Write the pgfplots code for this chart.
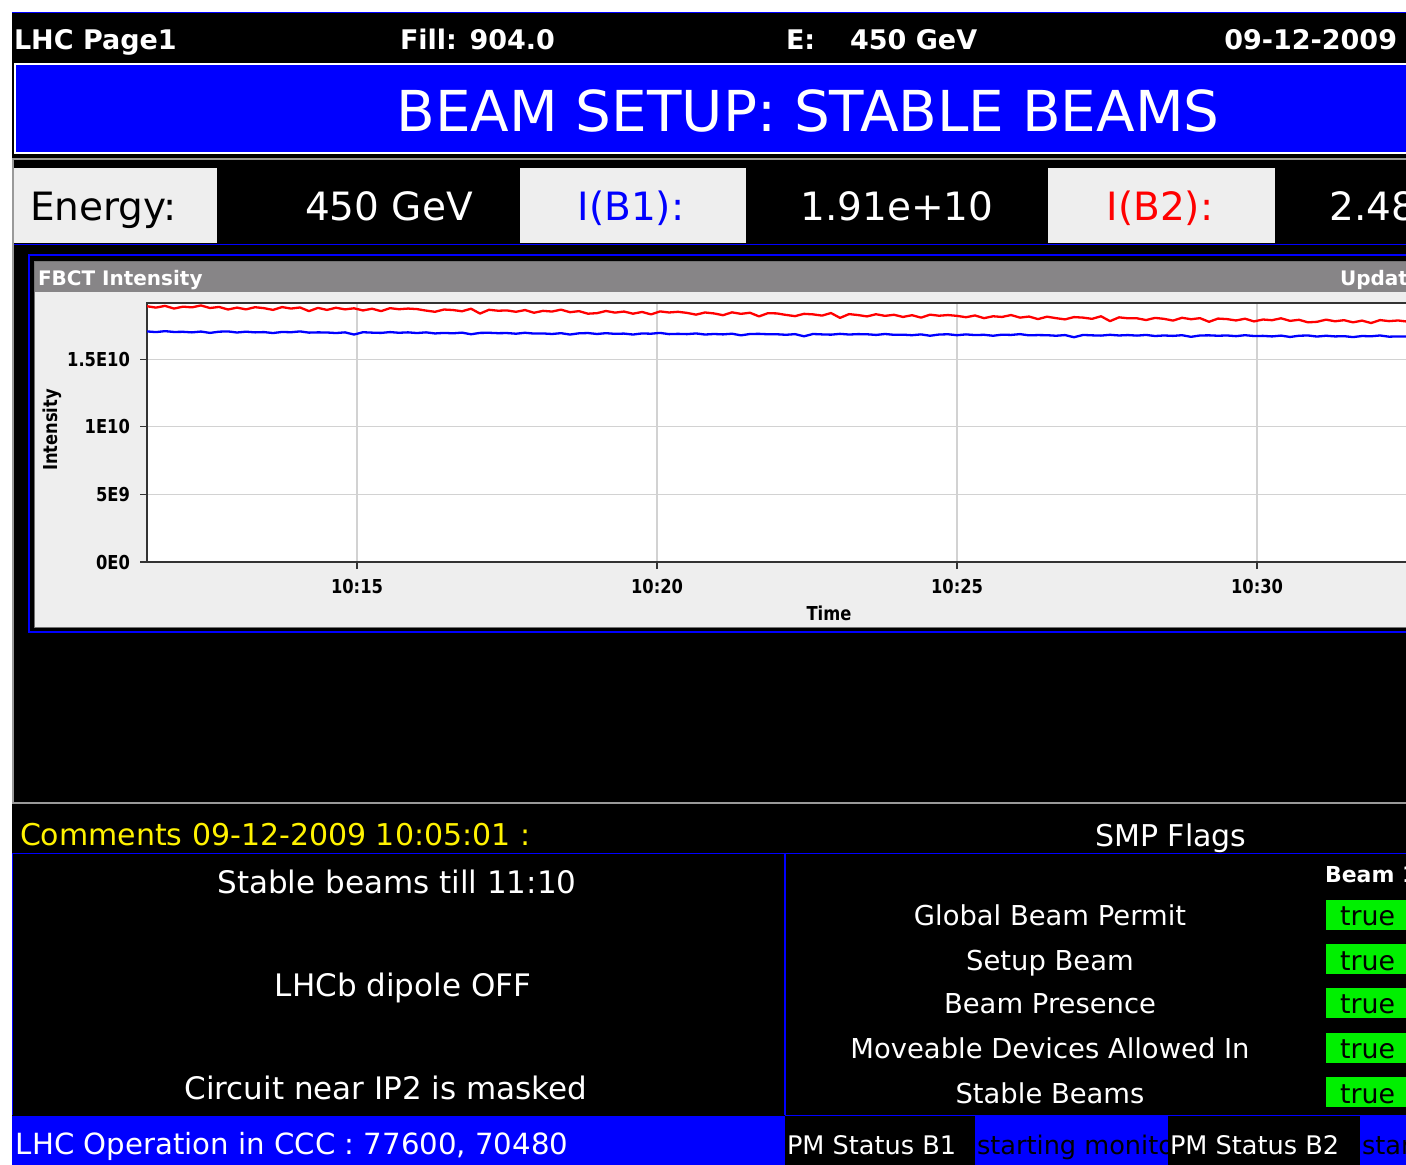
\documentclass[border=0pt]{standalone}
\usepackage{fontspec}
\setmainfont{DejaVu Sans}
\newfontfamily\tickfont[FakeStretch=0.85]{DejaVu Sans Bold}
\usepackage{pgfplots}
\usepackage{pgfplotstable}
\pgfplotsset{compat=1.18}
\definecolor{scrblue}{RGB}{0,0,255}
\definecolor{scrred}{RGB}{255,0,0}
\definecolor{lgray}{RGB}{238,238,238}
\definecolor{tgray}{RGB}{135,133,135}
\definecolor{fgreen}{RGB}{0,240,0}
\definecolor{gridgray}{RGB}{210,210,210}

% FBCT intensity, units of 1E10 charges; t = minutes after 10:00
\pgfplotstableread{
t b1 b2
11.50 1.705 1.891
11.65 1.700 1.881
11.80 1.707 1.894
11.95 1.701 1.874
12.10 1.702 1.888
12.25 1.698 1.883
12.40 1.704 1.897
12.55 1.694 1.878
12.70 1.703 1.886
12.85 1.705 1.867
13.00 1.697 1.881
13.15 1.703 1.868
13.30 1.698 1.884
13.45 1.700 1.877
13.60 1.693 1.864
13.75 1.701 1.885
13.90 1.699 1.874
14.05 1.705 1.882
14.20 1.696 1.855
14.35 1.698 1.879
14.50 1.697 1.864
14.65 1.693 1.880
14.80 1.698 1.868
14.95 1.682 1.876
15.10 1.699 1.860
15.25 1.696 1.873
15.40 1.694 1.855
15.55 1.700 1.877
15.70 1.695 1.869
15.85 1.698 1.874
16.00 1.693 1.870
16.15 1.698 1.859
16.30 1.690 1.850
16.45 1.694 1.867
16.60 1.691 1.863
16.75 1.696 1.854
16.90 1.684 1.873
17.05 1.694 1.837
17.20 1.695 1.865
17.35 1.692 1.858
17.50 1.693 1.860
17.65 1.688 1.850
17.80 1.695 1.863
17.95 1.689 1.843
18.10 1.690 1.857
18.25 1.686 1.852
18.40 1.692 1.866
18.55 1.682 1.847
18.70 1.691 1.855
18.85 1.693 1.836
19.00 1.686 1.840
19.15 1.692 1.856
19.30 1.687 1.844
19.45 1.689 1.852
19.60 1.682 1.836
19.75 1.690 1.849
19.90 1.688 1.831
20.05 1.694 1.853
20.20 1.685 1.845
20.35 1.687 1.850
20.50 1.685 1.842
20.65 1.690 1.829
20.80 1.682 1.845
20.95 1.686 1.838
21.10 1.683 1.825
21.25 1.688 1.846
21.40 1.676 1.835
21.55 1.686 1.843
21.70 1.687 1.816
21.85 1.684 1.840
22.00 1.684 1.838
22.15 1.680 1.827
22.30 1.685 1.818
22.45 1.669 1.835
22.60 1.686 1.831
22.75 1.683 1.822
22.90 1.681 1.841
23.05 1.687 1.805
23.20 1.682 1.833
23.35 1.685 1.826
23.50 1.684 1.816
23.65 1.679 1.832
23.80 1.686 1.820
23.95 1.680 1.828
24.10 1.681 1.812
24.25 1.677 1.825
24.40 1.683 1.807
24.55 1.673 1.829
24.70 1.682 1.821
24.85 1.684 1.826
25.00 1.677 1.820
25.15 1.683 1.810
25.30 1.678 1.823
25.45 1.680 1.803
25.60 1.673 1.817
25.75 1.681 1.812
25.90 1.679 1.826
26.05 1.685 1.807
26.20 1.676 1.815
26.35 1.678 1.796
26.50 1.677 1.814
26.65 1.673 1.803
26.80 1.678 1.794
26.95 1.662 1.811
27.10 1.679 1.807
27.25 1.676 1.798
27.40 1.674 1.817
27.55 1.680 1.781
27.70 1.675 1.809
27.85 1.678 1.802
28.00 1.674 1.802
28.15 1.679 1.789
28.30 1.671 1.805
28.45 1.675 1.798
28.60 1.672 1.785
28.75 1.677 1.806
28.90 1.665 1.795
29.05 1.675 1.803
29.20 1.676 1.776
29.35 1.673 1.800
29.50 1.675 1.796
29.65 1.670 1.786
29.80 1.677 1.799
29.95 1.671 1.779
30.10 1.672 1.793
30.25 1.668 1.788
30.40 1.674 1.802
30.55 1.664 1.783
30.70 1.673 1.791
30.85 1.675 1.772
31.00 1.667 1.776
31.15 1.673 1.792
31.30 1.668 1.780
31.45 1.670 1.788
31.60 1.663 1.772
31.75 1.671 1.785
31.90 1.669 1.767
32.05 1.675 1.789
32.20 1.666 1.781
32.35 1.668 1.786
32.50 1.667 1.778
32.65 1.663 1.765
32.80 1.668 1.781
32.95 1.652 1.774
33.10 1.669 1.761
}\fbct

\begin{document}
\begin{tikzpicture}
\useasboundingbox (0,0) rectangle (703pt,-582pt);
\clip (0,0) rectangle (703pt,-582pt);
\fill[white] (0,0) rectangle (703pt,-582pt);

% ---------- backgrounds (pixel coordinates, y downwards) ----------
\begin{scope}[x=0.5pt,y=-0.5pt]
  \fill[black] (12,12) rectangle (1420,1170);
  \draw[scrblue, line width=0.6pt] (12,12.5) -- (1420,12.5);
  % banner
  \draw[white, line width=0.9pt, fill=scrblue] (15,64) rectangle (1430,153);
  % middle frame
  \draw[black!40, line width=0.8pt] (13,159) rectangle (1430,803);
  % value row
  \fill[lgray] (14,168) rectangle (217,243);
  \fill[lgray] (520,168) rectangle (746,243);
  \fill[lgray] (1048,168) rectangle (1275,243);
  \draw[scrblue, line width=0.7pt] (14,244.5) -- (1430,244.5);
  % chart panel
  \draw[scrblue, line width=1pt] (29,255) rectangle (1440,632);
  \fill[tgray] (34,261) rectangle (1440,292);
  \fill[lgray] (34,292) rectangle (1440,627);
  \draw[black!55, line width=0.5pt] (34,261) rectangle (1440,627);
  % lower panels
  \draw[scrblue, line width=0.7pt] (12,853.5) -- (1430,853.5);
  \draw[scrblue, line width=0.7pt] (785,853.5) -- (785,1115);
  \draw[scrblue, line width=0.7pt] (12.5,853.5) -- (12.5,1115);
  \draw[scrblue, line width=0.7pt] (785,1115.5) -- (1430,1115.5);
  % green flag boxes
  \fill[fgreen] (1326,900) rectangle (1430,930);
  \fill[fgreen] (1326,944) rectangle (1430,974);
  \fill[fgreen] (1326,988) rectangle (1430,1018);
  \fill[fgreen] (1326,1033) rectangle (1430,1063);
  \fill[fgreen] (1326,1077) rectangle (1430,1107);
  % bottom bar
  \fill[scrblue] (12,1116) rectangle (785,1170);
  \fill[scrblue] (975,1116) rectangle (1168,1170);
  \fill[scrblue] (1360,1116) rectangle (1430,1170);
\end{scope}

% ---------- FBCT intensity chart ----------
\begin{axis}[
  at={(73.5pt,-281pt)}, anchor=south west,
  width=645pt, height=129.5pt, scale only axis,
  xmin=11.5, xmax=33, ymin=0, ymax=1.915,
  axis background/.style={fill=white},
  axis line style={draw=black!80, line width=0.8pt},
  grid=major, grid style={draw=gridgray, line width=0.6pt},
  tick align=outside, major tick length=3.5pt,
  tick style={draw=black!80, line width=0.6pt},
  xtick pos=bottom, ytick pos=left,
  xtick={15,20,25,30}, xticklabels={10:15,10:20,10:25,10:30},
  ytick={0,0.5,1,1.5}, yticklabels={0E0,5E9,1E10,1.5E10},
  ticklabel style={font=\tickfont\fontsize{9.6}{11}\selectfont, text=black},
  xticklabel style={yshift=-1.5pt},
  yticklabel style={xshift=-1.5pt},
]
\addplot[scrred, line width=1.15pt, line join=round] table[x=t, y=b2] {\fbct};
\addplot[scrblue, line width=1.15pt, line join=round] table[x=t, y=b1] {\fbct};
\end{axis}

% ---------- texts ----------
\begin{scope}[x=0.5pt,y=-0.5pt, every node/.style={inner sep=0pt, outer sep=0pt}]
  % header
  \node[anchor=base west, text=white, font=\bfseries\fontsize{13.5}{15}\selectfont] at (14,49) {LHC Page1};
  \node[anchor=base west, text=white, font=\bfseries\fontsize{13.5}{15}\selectfont] at (400,49) {Fill: 904.0};
  \node[anchor=base west, text=white, font=\bfseries\fontsize{13.5}{15}\selectfont] at (786,49) {E:};
  \node[anchor=base west, text=white, font=\bfseries\fontsize{13.5}{15}\selectfont] at (850,49) {450 GeV};
  \node[anchor=base east, text=white, font=\bfseries\fontsize{13.5}{15}\selectfont] at (1397,49) {09-12-2009};
  % banner
  \node[anchor=base, text=white, font=\fontsize{28.2}{32}\selectfont] at (808,131) {BEAM SETUP: STABLE BEAMS};
  % value row
  \node[anchor=base west, text=black, font=\fontsize{19.5}{22}\selectfont] at (30,220) {Energy:};
  \node[anchor=base, text=white, font=\fontsize{19.5}{22}\selectfont] at (389,220) {450 GeV};
  \node[anchor=base, text=scrblue, font=\fontsize{19.5}{22}\selectfont] at (631,220) {I(B1):};
  \node[anchor=base, text=white, font=\fontsize{19.5}{22}\selectfont] at (897,220) {1.91e+10};
  \node[anchor=base, text=scrred, font=\fontsize{19.5}{22}\selectfont] at (1160,220) {I(B2):};
  \node[anchor=base, text=white, font=\fontsize{19.5}{22}\selectfont] at (1426,220) {2.48e+10};
  % chart panel texts
  \node[anchor=base west, text=white, font=\bfseries\fontsize{10}{12}\selectfont] at (38,285) {FBCT Intensity};
  \node[anchor=base west, text=white, font=\bfseries\fontsize{10}{12}\selectfont] at (1340,285) {Updated: 10:32:31};
  \node[rotate=90, text=black, font=\tickfont\fontsize{9.6}{11}\selectfont] at (52,430) {Intensity};
  \node[anchor=base, text=black, font=\tickfont\fontsize{9.6}{11}\selectfont] at (829,620) {Time};
  % comments
  \node[anchor=base west, text=yellow, font=\fontsize{15}{18}\selectfont] at (20,845) {Comments 09-12-2009 10:05:01 :};
  \node[anchor=base, text=white, font=\fontsize{15}{18}\selectfont] at (1171,846) {SMP Flags};
  \node[anchor=base, text=white, font=\fontsize{15.5}{18}\selectfont] at (397,893) {Stable beams till 11:10};
  \node[anchor=base, text=white, font=\fontsize{15.5}{18}\selectfont] at (403,996) {LHCb dipole OFF};
  \node[anchor=base, text=white, font=\fontsize{15.5}{18}\selectfont] at (386,1099) {Circuit near IP2 is masked};
  % SMP flags
  \node[anchor=base west, text=white, font=\bfseries\fontsize{11}{13}\selectfont] at (1325,882) {Beam 1};
  \node[anchor=base, text=white, font=\fontsize{13.7}{16}\selectfont] at (1050,925) {Global Beam Permit};
  \node[anchor=base, text=white, font=\fontsize{13.7}{16}\selectfont] at (1050,970) {Setup Beam};
  \node[anchor=base, text=white, font=\fontsize{13.7}{16}\selectfont] at (1050,1013) {Beam Presence};
  \node[anchor=base, text=white, font=\fontsize{13.7}{16}\selectfont] at (1050,1058) {Moveable Devices Allowed In};
  \node[anchor=base, text=white, font=\fontsize{13.7}{16}\selectfont] at (1050,1103) {Stable Beams};
  \foreach \yy in {925,970,1013,1058,1103}{
    \node[anchor=base west, text=black, font=\fontsize{13.4}{16}\selectfont] at (1340,\yy) {true};
  }
  % bottom bar
  \node[anchor=base west, text=white, font=\fontsize{14.6}{17}\selectfont] at (16,1154) {LHC Operation in CCC : 77600, 70480};
  \node[anchor=base west, text=white, font=\fontsize{12.8}{15}\selectfont] at (787,1154) {PM Status B1};
  \node[anchor=base west, text=white, font=\fontsize{12.8}{15}\selectfont] at (1170,1154) {PM Status B2};
  \begin{scope}
    \clip (975,1116) rectangle (1168,1170);
    \node[anchor=base west, text=black, font=\fontsize{12.8}{15}\selectfont] at (977,1154) {starting monitoring};
  \end{scope}
  \begin{scope}
    \clip (1360,1116) rectangle (1430,1170);
    \node[anchor=base west, text=black, font=\fontsize{12.8}{15}\selectfont] at (1362,1154) {starting monitoring};
  \end{scope}
\end{scope}
\end{tikzpicture}
\end{document}
